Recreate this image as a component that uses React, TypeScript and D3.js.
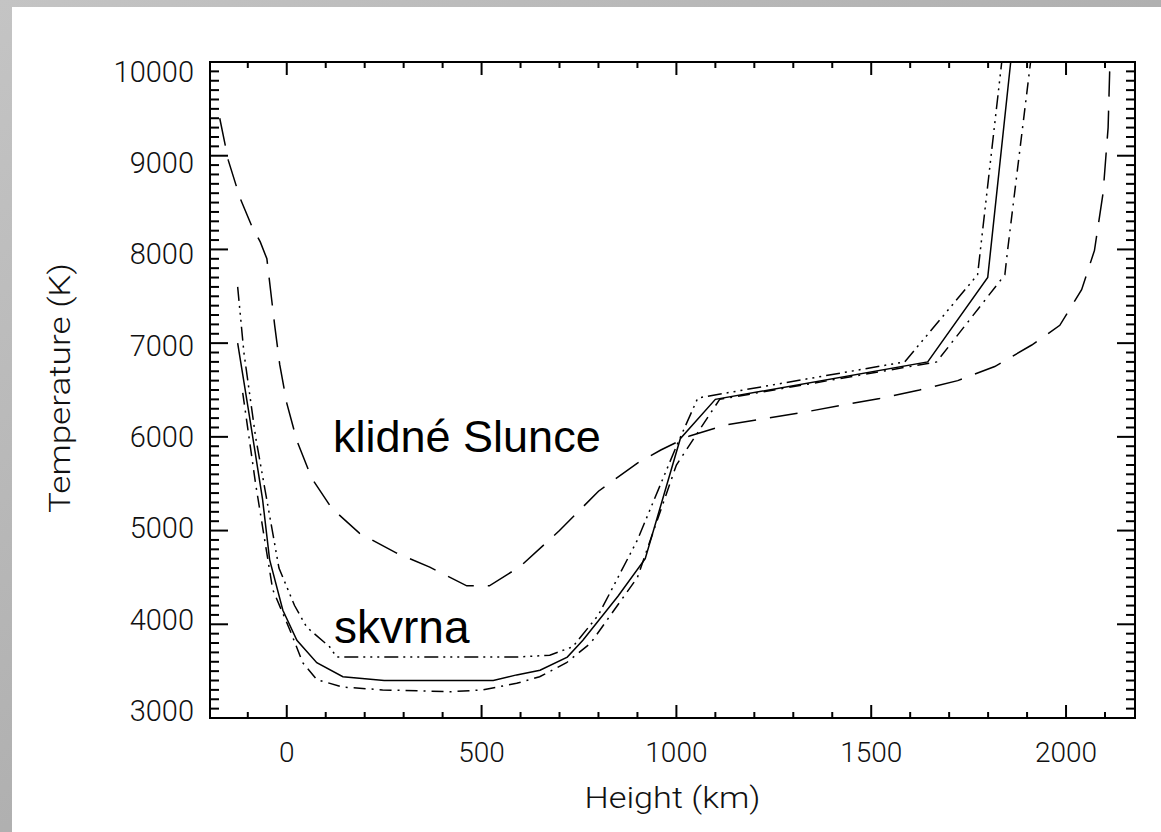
import React from "react";
import * as d3 from "d3";

// ---- data ----
const quietH = [-172, -150, -120, -90, -68, -51, -31, -18, 0, 26, 64, 115, 187, 282, 367, 462, 520, 600, 700, 800, 900, 960, 1034, 1129, 1221, 1324, 1427, 1522, 1624, 1722, 1817, 1912, 1984, 2040, 2073, 2095, 2108, 2112];
const quietT = [9400, 8950, 8550, 8250, 8080, 7900, 7190, 6770, 6360, 5960, 5560, 5240, 4970, 4760, 4610, 4410, 4410, 4620, 5000, 5420, 5720, 5860, 6010, 6130, 6190, 6260, 6340, 6410, 6500, 6600, 6750, 6980, 7190, 7570, 7990, 8600, 9300, 9900];

const spotMH = [-126, -95, -62, -44, -10, 26, 77, 144, 250, 530, 590, 650, 720, 760, 850, 920, 1010, 1100, 1645, 1799, 1858];
const spotMT = [7000, 6200, 5330, 4690, 4150, 3830, 3590, 3440, 3400, 3400, 3460, 3510, 3650, 3830, 4300, 4700, 5980, 6400, 6800, 7700, 10000];

const spotLH = [-113, -80, -36, 8, 41, 77, 144, 246, 418, 503, 590, 649, 718, 780, 900, 1000, 1111, 1668, 1843, 1850, 1909];
const spotLT = [6470, 5500, 4370, 3940, 3590, 3410, 3330, 3300, 3280, 3300, 3370, 3440, 3590, 3800, 4500, 5700, 6400, 6800, 7730, 7990, 10000];

const spotEH = [-126, -110, -80, -50, -20, 20, 51, 110, 128, 590, 675, 734, 800, 900, 1000, 1055, 1586, 1773, 1835];
const spotET = [7600, 6900, 6000, 5300, 4600, 4200, 3970, 3760, 3650, 3650, 3670, 3760, 4100, 4900, 5900, 6415, 6800, 7730, 10000];

const xMajorTicks = [0, 500, 1000, 1500, 2000];
const yMajorTicks = [3000, 4000, 5000, 6000, 7000, 8000, 9000, 10000];
const xTitle = "Height (km)";
const yTitle = "Temperature (K)";
const labelQuiet = "klidné Slunce";
const labelSpot = "skvrna";

const W = 1161, H = 832;
const L = 210, R = 1135, T = 62, B = 718;

export default function App() {
  const x = d3.scaleLinear().domain([-197, 2177]).range([L, R]);
  const y = d3.scaleLinear().domain([3000, 10000]).range([B, T]);
  const labelShift = d3.scaleLinear().domain([3000, 10000]).range([-7, 9.5]);
  const line = d3.line<[number, number]>().x(d => x(d[0])).y(d => y(d[1]));
  const zip = (a: number[], b: number[]) => a.map((v, i) => [v, b[i]] as [number, number]);

  const xMinor = d3.range(-100, 2177, 100).filter(v => v % 500 !== 0);
  const yMinor = d3.range(3100, 10000, 100).filter(v => v % 1000 !== 0);
  const tickFont = "Roboto, 'DejaVu Sans', sans-serif";

  const series = [
    { d: zip(quietH, quietT), dash: "28,14" },
    { d: zip(spotMH, spotMT), dash: "" },
    { d: zip(spotLH, spotLT), dash: "12,6,2,6" },
    { d: zip(spotEH, spotET), dash: "14,5,2,5,2,5,2,5" },
  ];

  return (
    <svg width={W} height={H} style={{ position: "absolute", left: 0, top: 0 }}>
      <defs>
        <linearGradient id="bg" x1="0" y1="0" x2="1" y2="1">
          <stop offset="0" stopColor="#c4c4c4" />
          <stop offset="0.5" stopColor="#b0b0b0" />
          <stop offset="1" stopColor="#c8c8c8" />
        </linearGradient>
      </defs>
      <rect x={0} y={0} width={W} height={H} fill="url(#bg)" />
      <rect x={12} y={7} width={W - 12} height={H - 7} fill="#ffffff" />

      {series.map((s, i) => (
        <path key={i} d={line(s.d) || ""} fill="none" stroke="#000" strokeWidth={1.5} strokeDasharray={s.dash} />
      ))}

      {/* frame */}
      <rect x={L} y={T} width={R - L} height={B - T} fill="none" stroke="#000" strokeWidth={2} />
      {xMajorTicks.map(v => (
        <g key={"xm" + v}>
          <line x1={x(v)} x2={x(v)} y1={B} y2={B - 13} stroke="#000" strokeWidth={2} />
          <line x1={x(v)} x2={x(v)} y1={T} y2={T + 13} stroke="#000" strokeWidth={2} />
          <text x={x(v)} y={762} textAnchor="middle" fontFamily={tickFont} fontWeight={300} fontSize={28} fill="#111">{v}</text>
        </g>
      ))}
      {xMinor.map(v => (
        <g key={"xn" + v}>
          <line x1={x(v)} x2={x(v)} y1={B} y2={B - 6} stroke="#000" strokeWidth={2} />
          <line x1={x(v)} x2={x(v)} y1={T} y2={T + 6} stroke="#000" strokeWidth={2} />
        </g>
      ))}
      {yMajorTicks.map(v => (
        <g key={"ym" + v}>
          <line x1={L} x2={L + 18} y1={y(v)} y2={y(v)} stroke="#000" strokeWidth={2} />
          <line x1={R} x2={R - 18} y1={y(v)} y2={y(v)} stroke="#000" strokeWidth={2} />
          <text x={194} y={y(v) + 10 + labelShift(v)} textAnchor="end" fontFamily={tickFont} fontWeight={300} fontSize={29} fill="#111">{v}</text>
        </g>
      ))}
      {yMinor.map(v => (
        <g key={"yn" + v}>
          <line x1={L} x2={L + 9} y1={y(v)} y2={y(v)} stroke="#000" strokeWidth={2} />
          <line x1={R} x2={R - 9} y1={y(v)} y2={y(v)} stroke="#000" strokeWidth={2} />
        </g>
      ))}

      <text x={(L + R) / 2} y={808} textAnchor="middle" textLength={176} lengthAdjust="spacingAndGlyphs" fontFamily={tickFont} fontWeight={300} fontSize={30} fill="#111">{xTitle}</text>
      <text transform={`translate(70,${(T + B) / 2 - 2}) rotate(-90)`} textAnchor="middle" textLength={250} lengthAdjust="spacingAndGlyphs" fontFamily={tickFont} fontWeight={300} fontSize={30} fill="#111">{yTitle}</text>

      <text x={333} y={452} fontFamily="'Liberation Sans', Arial, sans-serif" fontSize={45} fill="#000">{labelQuiet}</text>
      <text x={334} y={643} fontFamily="'Liberation Sans', Arial, sans-serif" fontSize={46} fill="#000">{labelSpot}</text>
    </svg>
  );
}
